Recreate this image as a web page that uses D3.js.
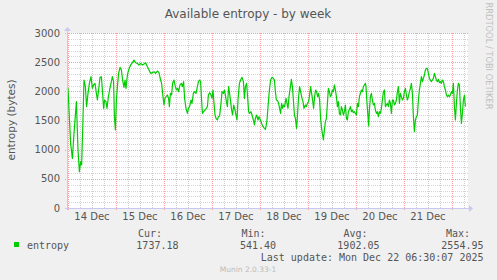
<!DOCTYPE html>
<html lang="en">
<head>
<meta charset="utf-8">
<title>Available entropy - by week</title>
<script src="https://d3js.org/d3.v7.min.js"></script>
<style>
  html, body { margin: 0; padding: 0; background: #f0f0f0; }
  svg { display: block; }
  .sans { font-family: "DejaVu Sans", sans-serif; }
  .mono { font-family: "DejaVu Sans Mono", monospace; }
</style>
</head>
<body>
<svg id="chart" width="497" height="280"></svg>
<script>
// hours after 14 Dec 00:00
var hours = [-0.5,0,1.3,2.2,3,4.2,5,5.7,6.3,6.8,7.3,8,8.7,9.3,10,10.7,11.5,12.2,12.8,13.5,14.2,14.7,15.3,16,16.7,17.3,17.8,18.3,19,19.5,20.2,20.8,21.5,22.2,22.8,23.2,23.7,24.2,24.7,25.3,26,26.7,27.3,28,28.5,29,29.7,30.3,31.3,32.2,33,33.8,34.7,35.5,36.3,37.2,38,38.8,39.7,40.5,41.3,42.2,43,43.8,44.7,45.5,46.3,46.8,47.5,48,48.5,49,
  49.7,50.3,50.7,51.2,51.8,52.3,53,53.7,54.2,54.8,55.3,56,56.7,57.2,57.8,58.3,59,59.7,60.2,60.8,61.5,62,62.7,63.3,64,64.7,65.2,65.8,66.3,66.7,67.2,67.8,68.5,69.2,69.7,70.2,70.8,71.5,72,72.5,73,73.5,74,74.7,75.2,75.8,76.5,77,77.7,78.2,78.7,79.2,79.7,80.3,80.8,81.3,81.8,82.3,82.8,83.5,84,84.5,85,85.7,86.3,87,87.7,88.2,88.7,89.3,89.8,90.3,90.8,91.5,92,92.7,93.2,93.7,94.3,95,95.5,96.2,96.8,97.5,98.2,98.7,
  99,99.5,100,100.7,101.3,102,102.7,103.2,103.7,104.2,104.8,105.3,105.8,106.3,106.8,107.3,107.8,108.3,109,109.5,110,110.5,111.2,111.7,112.2,112.7,113.2,113.7,114.3,114.8,115.3,115.8,116.3,117,117.5,118,118.7,119.2,119.7,120.3,120.8,121.3,121.8,122.3,122.8,123.3,123.8,124.3,124.8,125.3,125.8,126.3,126.8,127.3,127.7,128.2,128.7,129.2,129.7,130.2,130.7,131.2,131.7,132.2,132.7,133.2,133.7,134.2,134.7,135.2,135.7,136.2,136.7,137.2,137.7,138.2,138.7,139.2,139.7,140.2,140.7,141.2,141.7,142.2,142.7,143.2,143.7,144.2,144.7,145.2,145.7,146.2,146.7,147.2,147.7,148.2,148.7,
  149,149.5,150,150.3,150.7,151.2,151.7,152.2,152.7,153.2,153.7,154.2,154.7,155.2,155.7,156.2,156.7,157.2,157.7,158.2,158.7,159.2,159.7,160.2,160.7,161.2,161.7,162.2,162.7,163.2,163.7,164.2,164.7,165.2,165.7,166.2,166.7,167.2,167.7,168.2,168.7,169.2,169.7,170.2,170.7,171.2,171.7,172.2,172.7,173.2,173.7,174.2,174.7,175.2,175.7,176.2,176.7,177.2,177.7,178.2,178.7,179.2,179.7,180.2,180.7,181.2,181.7,182.2,182.7,183.2,183.7,184.2,184.7,185.2,185.7,186.2,186.7,187.2,187.7,188.2,188.7,189.2,189.7,190.2,190.7,191.2,191.7,192.2,192.7,193.2,193.7,194.2,194.7,195.2,195.7,196.2,196.7,197.2,197.7,198.2,198.7];
var entropy = [2034,2051,1109,851,1280,1823,994,623,794,737,1280,2194,2080,1737,1966,2137,2251,2051,2109,2137,1966,1851,2023,2240,2251,1966,1709,1851,1823,1709,1908,2023,2137,2251,2166,1566,1337,1851,2080,2308,2411,2366,2194,2069,2194,2051,2280,2366,2451,2491,2537,2491,2480,2451,2480,2451,2469,2491,2423,2366,2308,2320,2337,2308,2348,2320,2194,2137,1908,1766,1880,1908,
  1937,1880,1737,1966,1937,2137,2194,2080,2023,2051,1994,2109,2137,2080,2166,1880,1709,1623,1709,1737,1851,1794,1966,1994,1966,2080,2166,2194,2166,1908,1623,1651,1680,1709,1737,1937,1977,1937,1880,2023,1794,1594,1537,1509,1566,1577,1794,1994,1966,2023,1937,1823,1737,2080,1966,1823,1680,1594,1766,1680,1594,1509,1851,2137,2194,2240,2166,1880,2080,2137,1908,1651,1623,1651,1594,1509,1423,1537,1594,1509,1566,1509,1451,1394,1366,1349,
  1394,1509,1737,2023,2194,2240,2223,2194,1994,1851,1840,1794,1709,1623,1794,1709,1766,1737,1880,1794,1709,1908,2080,2206,2080,1851,1594,1537,1366,1623,1908,2080,1994,1880,1823,1709,1766,1737,1794,1823,1937,2080,1966,1851,1709,1908,2023,1994,1908,1966,1851,1537,1366,1251,1166,1337,1480,1537,1794,2051,1994,1908,1937,2023,1994,2109,2023,1908,1737,1823,1623,1594,1737,1680,1594,1651,1766,1537,1509,1651,1691,1737,1651,1680,1634,1651,1623,1594,1794,1737,1908,1966,2023,1994,2080,2109,2137,
  2080,1794,1566,1406,1680,1908,1966,1851,1766,1794,1680,1623,1651,1566,1651,1623,1709,1851,1994,2023,1737,1766,1794,1737,1851,1794,1623,1851,1851,1766,1794,1851,1994,2080,1794,1966,1908,1851,1880,1994,2051,1937,1851,1908,1994,2051,2137,1966,1566,1308,1509,1566,1594,1851,2023,2137,2251,2166,2223,2280,2366,2394,2394,2308,2223,2194,2166,2194,2223,2308,2251,2194,2166,2206,2149,2166,2137,2194,2166,2080,2023,1937,1908,1937,1908,1937,1994,1966,2137,1737,1509,1794,2023,2137,2109,1737,1451,1623,1851,1937,1737];

var yTicks = [0, 500, 1000, 1500, 2000, 2500, 3000];
var legendHeads = ["Cur:", "Min:", "Avg:", "Max:"];
var legendValues = ["1737.18", "541.40", "1902.05", "2554.95"];

var svg = d3.select("#chart");
var pLeft = 67, pRight = 467, pTop = 33, pBottom = 208;

var t0 = new Date(Date.UTC(2025, 11, 14, 0, 0));
var x = d3.scaleUtc()
    .domain([d3.utcMinute.offset(t0, -30), d3.utcMinute.offset(t0, 199.5 * 60)])
    .range([pLeft, pRight]);
var y = d3.scaleLinear().domain([0, 3000]).range([pBottom, pTop]);

// plot background
svg.append("rect").attr("x", pLeft).attr("y", pTop)
    .attr("width", pRight - pLeft + 1).attr("height", pBottom - pTop)
    .attr("fill", "#ffffff");

var grid = svg.append("g").attr("shape-rendering", "crispEdges");

// minor grid
grid.selectAll(".vmin").data(d3.utcHour.every(6).range(x.domain()[0], x.domain()[1]))
    .join("line")
    .attr("x1", function (d) { return Math.round(x(d)) + 0.5; })
    .attr("x2", function (d) { return Math.round(x(d)) + 0.5; })
    .attr("y1", pTop).attr("y2", pBottom)
    .attr("stroke", "#cfcfcf").attr("stroke-dasharray", "1,1");
grid.selectAll(".hmin").data(d3.range(100, 3001, 100))
    .join("line")
    .attr("x1", pLeft).attr("x2", pRight + 1)
    .attr("y1", function (d) { return Math.round(y(d)) + 0.5; })
    .attr("y2", function (d) { return Math.round(y(d)) + 0.5; })
    .attr("stroke", "#d4d4d4").attr("stroke-dasharray", "1,1");

// major grid
var days = d3.utcDay.range(x.domain()[0], x.domain()[1]);
grid.selectAll(".vmaj").data(days)
    .join("line")
    .attr("x1", function (d) { return Math.round(x(d)) + 0.5; })
    .attr("x2", function (d) { return Math.round(x(d)) + 0.5; })
    .attr("y1", pTop).attr("y2", pBottom + 2)
    .attr("stroke", "#f4a0a0").attr("stroke-dasharray", "1,1");
grid.selectAll(".hmaj").data(yTicks.slice(1))
    .join("line")
    .attr("x1", pLeft - 2).attr("x2", pRight + 1)
    .attr("y1", function (d) { return Math.round(y(d)) + 0.5; })
    .attr("y2", function (d) { return Math.round(y(d)) + 0.5; })
    .attr("stroke", "#f4a0a0").attr("stroke-dasharray", "1,1");

// data line
var line = d3.line()
    .x(function (d, i) { return x(d3.utcMinute.offset(t0, Math.round(hours[i] * 60))); })
    .y(function (d) { return y(d); });
svg.append("path").datum(entropy)
    .attr("d", line)
    .attr("fill", "none")
    .attr("stroke", "#00cc00")
    .attr("stroke-width", 1.2)
    .attr("stroke-linejoin", "round");

// axes lines and arrows
var axisColor = "#c8c8f0";
svg.append("line").attr("x1", pLeft - 2).attr("x2", pRight + 3)
    .attr("y1", pBottom + 0.5).attr("y2", pBottom + 0.5)
    .attr("stroke", axisColor).attr("shape-rendering", "crispEdges");
svg.append("line").attr("x1", pLeft + 0.5).attr("x2", pLeft + 0.5)
    .attr("y1", pBottom + 2).attr("y2", pTop - 3)
    .attr("stroke", axisColor).attr("shape-rendering", "crispEdges");
svg.append("path").attr("d", "M" + (pRight + 2) + "," + (pBottom - 3) + "L" + (pRight + 6) + "," + (pBottom + 0.5) + "L" + (pRight + 2) + "," + (pBottom + 4) + "Z")
    .attr("fill", axisColor);
svg.append("path").attr("d", "M" + (pLeft - 3) + "," + (pTop - 2) + "L" + (pLeft + 0.5) + "," + (pTop - 6) + "L" + (pLeft + 4) + "," + (pTop - 2) + "Z")
    .attr("fill", axisColor);

// y tick labels
svg.selectAll(".ylab").data(yTicks).join("text")
    .attr("class", "sans")
    .attr("x", 60).attr("y", function (d) { return y(d) + 3.5; })
    .attr("text-anchor", "end").attr("font-size", 10).attr("fill", "#555")
    .text(function (d) { return d; });

// x tick labels at noon (only those inside the window)
var fmt = d3.utcFormat("%d %b");
var noons = days.map(function (d) { return d3.utcHour.offset(d, 12); })
    .filter(function (d) { return d < x.domain()[1]; });
svg.selectAll(".xlab").data(noons).join("text")
    .attr("class", "sans")
    .attr("x", function (d) { return x(d); })
    .attr("y", 220)
    .attr("text-anchor", "middle").attr("font-size", 10).attr("fill", "#555")
    .text(function (d) { return fmt(d); });

// title and side texts
svg.append("text").attr("class", "sans")
    .attr("x", 248).attr("y", 17.5).attr("text-anchor", "middle")
    .attr("font-size", 12).attr("fill", "#555")
    .text("Available entropy - by week");
svg.append("text").attr("class", "sans")
    .attr("transform", "translate(15,120) rotate(-90)")
    .attr("text-anchor", "middle").attr("font-size", 10.5).attr("fill", "#555")
    .text("entropy (bytes)");
svg.append("text").attr("class", "sans")
    .attr("transform", "translate(486,56) rotate(90)")
    .attr("text-anchor", "middle").attr("font-size", 8.3).attr("fill", "#c0c0c0")
    .text("RRDTOOL / TOBI OETIKER");

// legend
svg.append("rect").attr("x", 14).attr("y", 242).attr("width", 5).attr("height", 5)
    .attr("fill", "#00cc00");
svg.append("text").attr("class", "mono").attr("x", 27).attr("y", 248.5)
    .attr("font-size", 10).attr("fill", "#555").text("entropy");
var headEnd = [162, 265.5, 367.5, 470];
var valEnd = [178.5, 276, 379.5, 483.5];
svg.selectAll(".lhead").data(legendHeads).join("text")
    .attr("class", "mono").attr("x", function (d, i) { return headEnd[i]; }).attr("y", 236.5)
    .attr("text-anchor", "end").attr("font-size", 10).attr("fill", "#555")
    .text(function (d) { return d; });
svg.selectAll(".lval").data(legendValues).join("text")
    .attr("class", "mono").attr("x", function (d, i) { return valEnd[i]; }).attr("y", 248.5)
    .attr("text-anchor", "end").attr("font-size", 10).attr("fill", "#555")
    .text(function (d) { return d; });
svg.append("text").attr("class", "mono").attr("x", 483.5).attr("y", 260.5)
    .attr("text-anchor", "end").attr("font-size", 10).attr("fill", "#555")
    .attr("xml:space", "preserve")
    .text("Last update: Mon Dec 22 06:30:07 2025");
svg.append("text").attr("class", "sans").attr("x", 248).attr("y", 272)
    .attr("text-anchor", "middle").attr("font-size", 7.5).attr("fill", "#bbbbbb")
    .text("Munin 2.0.33-1");
</script>
</body>
</html>
